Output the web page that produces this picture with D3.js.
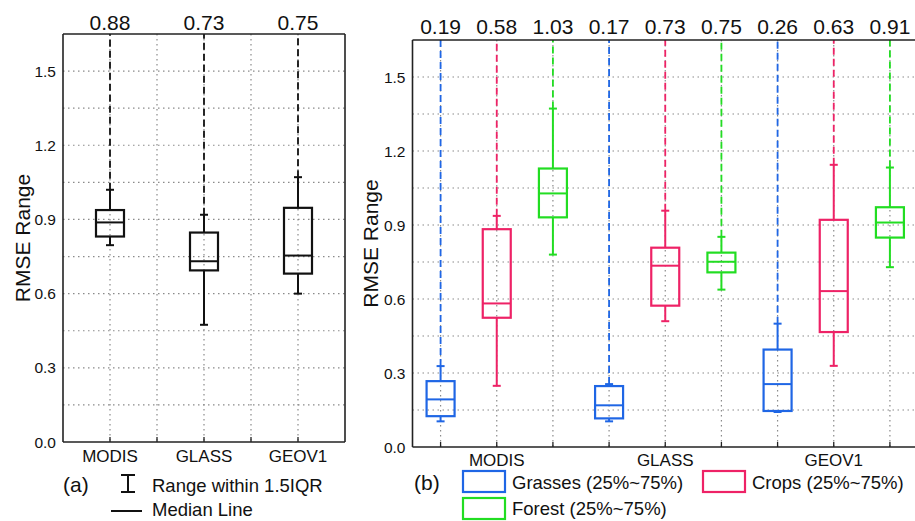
<!DOCTYPE html>
<html><head><meta charset="utf-8">
<script src="https://cdn.jsdelivr.net/npm/d3@7"></script>
<style>body{margin:0;background:#fff}svg{display:block;font-family:"Liberation Sans",Arial,sans-serif}</style>
</head><body><svg id="c" width="915" height="521"></svg>
<script>
// ---- Data ----
const leftCats = ["MODIS","GLASS","GEOV1"];
const leftMedian = [0.888,0.731,0.754];
const leftMedianLabels = ["0.88","0.73","0.75"];
const leftQ1 = [0.831,0.694,0.681];
const leftQ3 = [0.938,0.847,0.947];
const leftLow = [0.796,0.474,0.600];
const leftHigh = [1.020,0.919,1.071];

const groups = ["MODIS","GLASS","GEOV1"];
const types = ["Grasses","Crops","Forest"];
const typeColors = ["#1f66e5","#ee2266","#22dd22"];
const grassMedian = [0.193,0.169,0.255];
const cropMedian = [0.582,0.735,0.632];
const forestMedian = [1.028,0.751,0.910];
const grassQ1 = [0.125,0.116,0.146];
const cropQ1 = [0.524,0.573,0.466];
const forestQ1 = [0.931,0.708,0.849];
const grassQ3 = [0.267,0.247,0.395];
const cropQ3 = [0.883,0.808,0.921];
const forestQ3 = [1.129,0.788,0.972];
const grassLow = [0.104,0.104,0.142];
const cropLow = [0.248,0.510,0.329];
const forestLow = [0.780,0.638,0.729];
const grassHigh = [0.328,0.255,0.500];
const cropHigh = [0.937,0.958,1.144];
const forestHigh = [1.372,0.852,1.133];
const rightMedianLabels = ["0.19","0.58","1.03","0.17","0.73","0.75","0.26","0.63","0.91"];
const yTicks = [0,0.3,0.6,0.9,1.2,1.5];
const yGrid = [0.15,0.3,0.45,0.6,0.75,0.9,1.05,1.2,1.35,1.5];

const svg = d3.select("#c");
const gridColor = "#8a8a8a";

function drawPanel(o){
  const g = svg.append("g");
  const x = d3.scalePoint().domain(o.keys).range([o.x0,o.x1]).padding(0.5);
  const y = d3.scaleLinear().domain([0,1.65]).range([o.y1,o.y0]);
  const step = x.step();
  // grid
  g.selectAll(".hg").data(yGrid).join("line")
    .attr("x1",o.x0).attr("x2",o.x1).attr("y1",d=>y(d)).attr("y2",d=>y(d))
    .attr("stroke",gridColor).attr("stroke-width",1.2).attr("stroke-dasharray","1.5,3.5");
  const vx = [];
  o.keys.forEach((k,i)=>{vx.push(x(k)); if(o.halfGrid && i<o.keys.length-1) vx.push(x(k)+step/2);});
  g.selectAll(".vg").data(vx).join("line")
    .attr("x1",d=>d).attr("x2",d=>d).attr("y1",o.y0).attr("y2",o.y1)
    .attr("stroke",gridColor).attr("stroke-width",1.2).attr("stroke-dasharray","1.5,3.5");
  // bottom ticks
  g.selectAll(".bt").data(vx).join("line")
    .attr("x1",d=>d).attr("x2",d=>d).attr("y1",o.y1).attr("y2",o.y1-5)
    .attr("stroke","#222").attr("stroke-width",1.3);
  // boxes
  o.items.forEach((it,i)=>{
    const cx = x(o.keys[i]);
    const w = 28, cap = 8;
    const c = it.color;
    g.append("line").attr("x1",cx).attr("x2",cx).attr("y1",y(it.high)).attr("y2",o.y0)
      .attr("stroke",c).attr("stroke-width",1.8).attr("stroke-dasharray","7,4");
    g.append("line").attr("x1",cx).attr("x2",cx).attr("y1",y(it.high)).attr("y2",y(it.q3))
      .attr("stroke",c).attr("stroke-width",2);
    g.append("line").attr("x1",cx).attr("x2",cx).attr("y1",y(it.q1)).attr("y2",y(it.low))
      .attr("stroke",c).attr("stroke-width",2);
    [it.high,it.low].forEach(v=>g.append("line").attr("x1",cx-cap/2).attr("x2",cx+cap/2)
      .attr("y1",y(v)).attr("y2",y(v)).attr("stroke",c).attr("stroke-width",2));
    g.append("rect").attr("x",cx-w/2).attr("width",w).attr("y",y(it.q3)).attr("height",y(it.q1)-y(it.q3))
      .attr("fill","none").attr("stroke",c).attr("stroke-width",2.2);
    g.append("line").attr("x1",cx-w/2).attr("x2",cx+w/2).attr("y1",y(it.med)).attr("y2",y(it.med))
      .attr("stroke",c).attr("stroke-width",2);
    g.append("text").attr("x",cx).attr("y",o.labelY).attr("text-anchor","middle")
      .attr("font-size",21).attr("fill","#111").text(it.label);
  });
  // frame
  g.append("line").attr("x1",o.x0).attr("x2",o.x1).attr("y1",o.y0).attr("y2",o.y0).attr("stroke","#222").attr("stroke-width",1.6);
  g.append("line").attr("x1",o.x0).attr("x2",o.x1).attr("y1",o.y1).attr("y2",o.y1).attr("stroke","#222").attr("stroke-width",1.6);
  g.append("line").attr("x1",o.x0).attr("x2",o.x0).attr("y1",o.y0).attr("y2",o.y1).attr("stroke","#222").attr("stroke-width",1.6);
  g.append("line").attr("x1",o.x1).attr("x2",o.x1).attr("y1",o.y0).attr("y2",o.y1).attr("stroke","#222").attr("stroke-width",1.6);
  // y tick labels
  g.selectAll(".yl").data(yTicks).join("text")
    .attr("x",o.x0-7).attr("y",d=>y(d)+5.5).attr("text-anchor","end")
    .attr("font-size",15.5).attr("fill","#111").text(d=>d.toFixed(1));
  // y title
  g.append("text").attr("transform",`translate(${o.titleX},${(o.y0+o.y1)/2}) rotate(-90)`)
    .attr("text-anchor","middle").attr("font-size",21).attr("fill","#111").text("RMSE Range");
  // category labels
  o.catLabels.forEach(cl=>{
    g.append("text").attr("x",x(cl.key)).attr("y",o.catY).attr("text-anchor","middle")
      .attr("font-size",17).attr("fill","#111").text(cl.text);
  });
  return {x,y};
}

// left panel
drawPanel({
  keys: leftCats, x0:63, x1:345, y0:34, y1:442, halfGrid:true, labelY:30, titleX:30, catY:462,
  items: leftCats.map((c,i)=>({color:"#111",high:leftHigh[i],low:leftLow[i],q1:leftQ1[i],q3:leftQ3[i],med:leftMedian[i],label:leftMedianLabels[i]})),
  catLabels: leftCats.map(c=>({key:c,text:c}))
});

// right panel
const medians=[grassMedian,cropMedian,forestMedian], q1s=[grassQ1,cropQ1,forestQ1], q3s=[grassQ3,cropQ3,forestQ3],
      lows=[grassLow,cropLow,forestLow], highs=[grassHigh,cropHigh,forestHigh];
const rkeys=[], ritems=[];
groups.forEach((gname,gi)=>types.forEach((t,ti)=>{
  rkeys.push(gname+"-"+t);
  ritems.push({color:typeColors[ti],high:highs[ti][gi],low:lows[ti][gi],q1:q1s[ti][gi],q3:q3s[ti][gi],med:medians[ti][gi],label:rightMedianLabels[gi*3+ti]});
}));
drawPanel({
  keys: rkeys, x0:412.5, x1:918, y0:40, y1:447, halfGrid:false, labelY:34, titleX:378, catY:466,
  items: ritems,
  catLabels: groups.map(gname=>({key:gname+"-Crops",text:gname}))
});

// left legend
const lg = svg.append("g").attr("fill","#111");
lg.append("text").attr("x",63).attr("y",492).attr("font-size",21).text("(a)");
lg.append("line").attr("x1",128).attr("x2",128).attr("y1",475).attr("y2",492).attr("stroke","#111").attr("stroke-width",2);
lg.append("line").attr("x1",121).attr("x2",135).attr("y1",475).attr("y2",475).attr("stroke","#111").attr("stroke-width",2);
lg.append("line").attr("x1",121).attr("x2",135).attr("y1",492).attr("y2",492).attr("stroke","#111").attr("stroke-width",2);
lg.append("text").attr("x",152).attr("y",492).attr("font-size",18.5).text("Range within 1.5IQR");
lg.append("line").attr("x1",111).attr("x2",142).attr("y1",511).attr("y2",511).attr("stroke","#111").attr("stroke-width",2);
lg.append("text").attr("x",152).attr("y",516).attr("font-size",18.5).text("Median Line");

// right legend
const rl = svg.append("g").attr("fill","#111");
rl.append("text").attr("x",414).attr("y",490).attr("font-size",21).text("(b)");
const legendItems = [
  {ti:0,x:463,y:471,tx:512,ty:489},
  {ti:1,x:703,y:471,tx:752,ty:489},
  {ti:2,x:463,y:498,tx:512,ty:515}
];
legendItems.forEach(li=>{
  rl.append("rect").attr("x",li.x).attr("y",li.y).attr("width",42).attr("height",21)
    .attr("fill","none").attr("stroke",typeColors[li.ti]).attr("stroke-width",2.2);
  rl.append("text").attr("x",li.tx).attr("y",li.ty).attr("font-size",18.5).text(types[li.ti]+" (25%~75%)");
});
</script></body></html>
